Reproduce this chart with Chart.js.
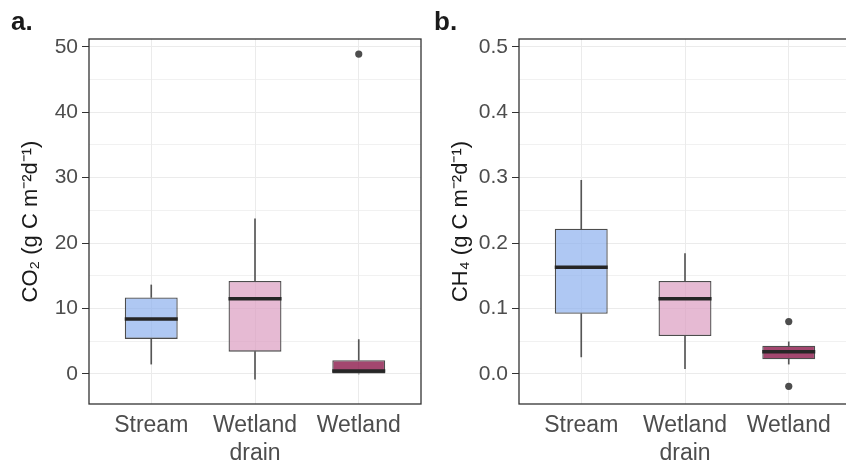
<!DOCTYPE html>
<html>
<head>
<meta charset="utf-8">
<script src="https://cdn.jsdelivr.net/npm/chart.js@4"></script>
<style>
  html, body { margin: 0; padding: 0; background: #fff; overflow: hidden; }
  body { width: 846px; height: 461px; position: relative; }
  .panel { position: absolute; top: 0; }
  .tag { position: absolute; font: bold 26px "Liberation Sans", Arial, sans-serif; color: #1a1a1a; }
</style>
</head>
<body>
<div class="panel" style="left:0"><canvas id="co2Chart" width="430" height="461"></canvas></div>
<div class="panel" style="left:430px"><canvas id="ch4Chart" width="430" height="461"></canvas></div>
<div class="tag" style="left:11px; top:6px">a.</div>
<div class="tag" style="left:434px; top:6px">b.</div>
<script>
// ========== CO2 / CH4 boxplots by site type ==========
const categories = ['Stream', ['Wetland', 'drain'], 'Wetland'];

// CO2 (g C m-2 d-1)
const co2Low = [1.5, -0.8, 0.0];
const co2Q1 = [5.35, 3.4, 0.0];
const co2Median = [8.4, 11.5, 0.45];
const co2Q3 = [11.7, 14.2, 2.1];
const co2High = [13.6, 23.7, 5.25];
const co2OutlierCat = ['Wetland'];
const co2OutlierVal = [48.9];

// CH4 (g C m-2 d-1)
const ch4Low = [0.026, 0.008, 0.015];
const ch4Q1 = [0.092, 0.058, 0.0225];
const ch4Median = [0.163, 0.115, 0.034];
const ch4Q3 = [0.222, 0.142, 0.043];
const ch4High = [0.296, 0.184, 0.049];
const ch4OutlierCat = ['Wetland', 'Wetland'];
const ch4OutlierVal = [0.080, -0.019];

const boxFill = ['rgba(141,176,238,0.7)', 'rgba(219,156,192,0.7)', 'rgba(140,25,75,0.8)'];
const FONT = '"Liberation Sans", Arial, sans-serif';

function catIndex(name) {
    return categories.findIndex(function(c) { return [].concat(c).join(' ') === name; });
}

const panelFrame = {
    id: 'panelFrame',
    afterDatasetsDraw: function(chart) {
        var a = chart.chartArea, ctx = chart.ctx;
        ctx.save();
        ctx.strokeStyle = '#333';
        ctx.lineWidth = 1.3;
        ctx.strokeRect(a.left, a.top, a.right - a.left, a.bottom - a.top);
        ctx.restore();
    }
};

function makePanel(id, s) {
    var pts = function(arr) { return arr.map(function(v, i) { return { x: i, y: v }; }); };
    var whiskerStyle = { type: 'bar', grouped: false, barThickness: 1, backgroundColor: '#555', borderWidth: 0, order: 3 };
    new Chart(document.getElementById(id), {
        type: 'bar',
        data: {
            datasets: [
                Object.assign({ data: pts(s.q1.map(function(v, i) { return [s.low[i], v]; })) }, whiskerStyle),
                Object.assign({ data: pts(s.q3.map(function(v, i) { return [v, s.high[i]]; })) }, whiskerStyle),
                {
                    type: 'bar', grouped: false, order: 2,
                    data: pts(s.q1.map(function(v, i) { return [v, s.q3[i]]; })),
                    backgroundColor: boxFill, borderColor: '#4d4d4d', borderWidth: 1.3, borderSkipped: false,
                    barPercentage: 0.51, categoryPercentage: 1
                },
                {
                    type: 'line', order: 1, showLine: false, data: pts(s.median),
                    pointStyle: 'line', pointRadius: 26.5, pointBorderWidth: 3.5,
                    pointBorderColor: '#262626', pointBackgroundColor: '#262626'
                },
                {
                    type: 'line', order: 0, showLine: false,
                    data: s.outCat.map(function(c, i) { return { x: catIndex(c), y: s.outVal[i] }; }),
                    pointRadius: 3.6, pointBorderWidth: 0, pointBackgroundColor: '#4d4d4d'
                }
            ]
        },
        options: {
            responsive: false,
            animation: false,
            layout: { autoPadding: false, padding: { left: 0, right: 9, top: 39, bottom: 0 } },
            plugins: { legend: { display: false }, tooltip: { enabled: false } },
            scales: {
                x: {
                    type: 'linear', offset: false,
                    min: -0.6, max: categories.length - 0.4,
                    afterFit: function(sc) { sc.height = 57; sc.paddingLeft = 0; sc.paddingRight = 0; },
                    grid: { offset: false, color: '#ebebeb', lineWidth: 1, drawTicks: false },
                    border: { display: false },
                    ticks: {
                        stepSize: 1, includeBounds: false, color: '#4d4d4d', padding: 8, maxRotation: 0,
                        font: { family: FONT, size: 23 },
                        callback: function(v) { return categories[v]; }
                    }
                },
                y: {
                    min: s.min, max: s.max,
                    afterFit: function(sc) { sc.width = 89; },
                    grid: {
                        color: '#ebebeb',
                        lineWidth: function(ctx) { return s.isMajor(ctx.tick.value) ? 1 : 0.7; },
                        tickLength: 7,
                        tickColor: function(ctx) { return s.isMajor(ctx.tick.value) ? '#333' : 'rgba(0,0,0,0)'; }
                    },
                    border: { display: false },
                    ticks: {
                        stepSize: s.step, includeBounds: false, padding: 4, color: '#4d4d4d',
                        font: { family: FONT, size: 21 },
                        callback: function(v) { return s.isMajor(v) ? s.fmt(v) : ''; }
                    },
                    title: {
                        display: true, text: s.title, color: '#1a1a1a',
                        font: { family: FONT, size: 22 }, padding: { top: 18, bottom: 0 }
                    }
                }
            }
        },
        plugins: [panelFrame]
    });
}

makePanel('co2Chart', {
    low: co2Low, q1: co2Q1, median: co2Median, q3: co2Q3, high: co2High,
    outCat: co2OutlierCat, outVal: co2OutlierVal,
    min: -4.6, max: 51.2, step: 5,
    isMajor: function(v) { return Math.abs(v % 10) < 1e-6; },
    fmt: function(v) { return String(v); },
    title: 'CO\u2082 (g C m\u207B\u00B2d\u207B\u00B9)'
});

makePanel('ch4Chart', {
    low: ch4Low, q1: ch4Q1, median: ch4Median, q3: ch4Q3, high: ch4High,
    outCat: ch4OutlierCat, outVal: ch4OutlierVal,
    min: -0.046, max: 0.512, step: 0.05,
    isMajor: function(v) { return Math.abs(Math.round(v * 100) % 10) === 0; },
    fmt: function(v) { return v.toFixed(1); },
    title: 'CH\u2084 (g C m\u207B\u00B2d\u207B\u00B9)'
});
</script>
</body>
</html>
